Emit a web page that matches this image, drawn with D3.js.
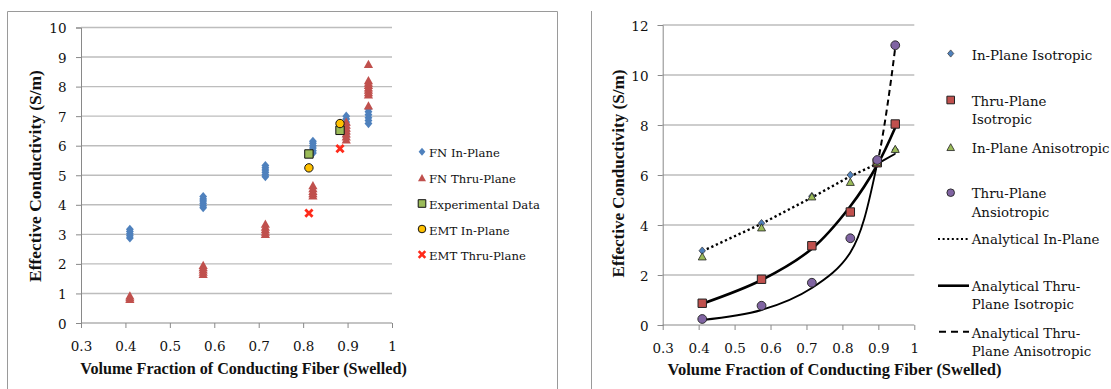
<!DOCTYPE html>
<html><head><meta charset="utf-8">
<script src="https://cdn.jsdelivr.net/npm/d3@7"></script>
<style>body{margin:0;background:#fff;} svg{display:block}</style>
</head><body>
<svg id="c" width="1111" height="389"></svg>
<script>
// ---------------- DATA ----------------
const fiberX = [0.41, 0.575, 0.715, 0.822, 0.897, 0.947];
// left chart: Finite network (FN) results, several runs per volume fraction
const fnInPlane = [
  [2.88, 2.95, 3.02, 3.10, 3.17],
  [3.90, 3.97, 4.05, 4.13, 4.20, 4.28],
  [4.95, 5.02, 5.10, 5.18, 5.25, 5.33],
  [5.75, 5.83, 5.92, 6.00, 6.08, 6.15],
  [6.30, 6.40, 6.50, 6.60, 6.70, 6.80, 6.90, 7.00],
  [6.75, 6.85, 6.95, 7.05, 7.15, 7.25]
];
const fnThruPlane = [
  [0.80, 0.86, 0.92],
  [1.65, 1.72, 1.80, 1.88, 1.95],
  [3.00, 3.08, 3.16, 3.25, 3.35],
  [4.30, 4.38, 4.46, 4.55, 4.65],
  [6.20, 6.30, 6.40, 6.50, 6.60, 6.70, 6.80],
  [7.35, 7.72, 7.80, 7.88, 7.96, 8.04, 8.12, 8.20, 8.75]
];
const expX = [0.813, 0.883];
const experimentalData = [5.72, 6.52];
const emtInPlane = [5.25, 6.75];
const emtThruPlane = [3.72, 5.90];
const leftLegendLabels = ["FN In-Plane", "FN Thru-Plane", "Experimental Data", "EMT In-Plane", "EMT Thru-Plane"];
const leftYTicks = [0, 1, 2, 3, 4, 5, 6, 7, 8, 9, 10];
const xTicks = [0.3, 0.4, 0.5, 0.6, 0.7, 0.8, 0.9, 1.0];
const xTickLabels = ["0.3", "0.4", "0.5", "0.6", "0.7", "0.8", "0.9", "1"];

// right chart
const inPlaneIsotropic = [2.97, 4.07, 5.15, 6.00, 6.50, 7.00];
const thruPlaneIsotropic = [0.87, 1.83, 3.17, 4.52, 6.49, 8.04];
const inPlaneAnisotropic = [2.73, 3.89, 5.13, 5.71, 6.50, 7.03];
const thruPlaneAnisotropic = [0.24, 0.77, 1.69, 3.47, 6.60, 11.19];
const analyticalInPlane = [2.95, 4.05, 5.10, 5.95, 6.45, 6.85];
const analyticalThruIso = [0.85, 1.80, 3.05, 4.75, 6.40, 7.90];
const analyticalThruAniso = [0.20, 0.60, 1.48, 2.90, 6.45, 11.10];
const rightYTicks = [0, 2, 4, 6, 8, 10, 12];
const rightLegendLabels = [
  ["In-Plane Isotropic"], ["Thru-Plane", "Isotropic"], ["In-Plane Anisotropic"],
  ["Thru-Plane", "Ansiotropic"], ["Analytical In-Plane"],
  ["Analytical Thru-", "Plane Isotropic"], ["Analytical Thru-", "Plane Anisotropic"]
];
const xTitle = "Volume Fraction of Conducting Fiber (Swelled)";
const yTitle = "Effective Conductivity (S/m)";

// ---------------- STYLE ----------------
const GRID = "#bdbdbd", AXIS = "#898989", FRAME = "#9a9a9a";
const BLUE = "#4f81bd", RED = "#c0504d", GREEN = "#9bbb59", PURPLE = "#8064a2", GOLD = "#ffc000", XRED = "#ff2a1a";
const SERIF = "'DejaVu Serif', serif";
const TITLEF = "'Liberation Serif', serif";
const TXT = "#111";

const svg = d3.select("#c");
svg.append("rect").attr("width", 1111).attr("height", 389).attr("fill", "#fff");

function fitSize(sel, target) {
  const fs = parseFloat(sel.attr("font-size"));
  const w = sel.node().getComputedTextLength();
  const nf = fs * target / w;
  sel.attr("font-size", nf);
  return nf;
}

// frames
svg.append("path").attr("d", "M7.5,389V11.5H557.5V389").attr("fill", "none").attr("stroke", FRAME).attr("stroke-width", 1);
svg.append("path").attr("d", "M591.5,11V389").attr("fill", "none").attr("stroke", FRAME).attr("stroke-width", 1);

function drawAxes(g, x, y, yTicks, yLabelX, xLabelY, yBase) {
  const [x0, x1] = x.range();
  g.selectAll(".grid").data(yTicks.filter(d => d !== 0)).join("line")
    .attr("x1", x0).attr("x2", x1).attr("y1", d => y(d)).attr("y2", d => y(d))
    .attr("stroke", GRID).attr("stroke-width", 1.4);
  const yAxis = d3.axisLeft(y).tickValues(yTicks).tickSize(5).tickFormat(d3.format("d"));
  const ga = g.append("g").attr("transform", `translate(${x0},0)`).call(yAxis);
  ga.select(".domain").attr("stroke", AXIS);
  ga.selectAll(".tick line").attr("stroke", AXIS);
  ga.selectAll(".tick text").attr("font-family", SERIF).attr("font-size", 13.5).attr("fill", TXT)
    .attr("x", yLabelX - x0).attr("dy", null).attr("y", yBase).attr("text-anchor", "end");
  const xAxis = d3.axisBottom(x).tickValues(xTicks).tickSize(5).tickFormat((d, i) => xTickLabels[i]);
  const gx = g.append("g").attr("transform", `translate(0,${y(0)})`).call(xAxis);
  gx.select(".domain").attr("stroke", AXIS).attr("d", `M${x0},0H${x1}`);
  gx.selectAll(".tick line").attr("stroke", AXIS);
  gx.selectAll(".tick text").attr("font-family", SERIF).attr("font-size", 13.5).attr("fill", TXT)
    .attr("dy", null).attr("y", xLabelY - y(0));
}

// ---------------- LEFT CHART ----------------
const xL = d3.scaleLinear().domain([0.3, 1]).range([81, 392]);
const yL = d3.scaleLinear().domain([0, 10]).range([323, 27.5]);
const gL = svg.append("g");
drawAxes(gL, xL, yL, leftYTicks, 66.5, 350.5, 5);

const diamond = (s) => `M0,${-s}L${s * 0.85},0L0,${s}L${-s * 0.85},0Z`;
const triangle = (s) => `M0,${-s}L${s},${s * 0.8}L${-s},${s * 0.8}Z`;
const square = (s) => `M${-s},${-s}H${s}V${s}H${-s}Z`;

const fnInPts = fiberX.flatMap((x, i) => fnInPlane[i].map(v => [x, v]));
const fnThPts = fiberX.flatMap((x, i) => fnThruPlane[i].map(v => [x, v]));
gL.selectAll(".fnin").data(fnInPts).join("path")
  .attr("transform", d => `translate(${xL(d[0])},${yL(d[1])})`).attr("d", diamond(4.6)).attr("fill", BLUE);
gL.selectAll(".fnth").data(fnThPts).join("path")
  .attr("transform", d => `translate(${xL(d[0])},${yL(d[1])})`).attr("d", triangle(4.6)).attr("fill", RED);
gL.selectAll(".exp").data(expX.map((x, i) => [x, experimentalData[i]])).join("path")
  .attr("transform", d => `translate(${xL(d[0])},${yL(d[1])})`).attr("d", square(4.2))
  .attr("fill", GREEN).attr("stroke", "#111").attr("stroke-width", 1);
gL.selectAll(".emti").data(expX.map((x, i) => [x, emtInPlane[i]])).join("circle")
  .attr("cx", d => xL(d[0])).attr("cy", d => yL(d[1])).attr("r", 4.2)
  .attr("fill", GOLD).attr("stroke", "#111").attr("stroke-width", 1);
const xMark = (s) => `M${-s},${-s}L${s},${s}M${s},${-s}L${-s},${s}`;
gL.selectAll(".emtt").data(expX.map((x, i) => [x, emtThruPlane[i]])).join("path")
  .attr("transform", d => `translate(${xL(d[0])},${yL(d[1])})`).attr("d", xMark(3.6))
  .attr("stroke", XRED).attr("stroke-width", 2.8).attr("fill", "none");

// left legend
const legRowsL = [152.7, 179, 205, 230.5, 256];
const legL = svg.append("g");
const lt = legL.selectAll("text").data(leftLegendLabels).join("text")
  .attr("x", 429).attr("y", (d, i) => legRowsL[i] + 4.2).attr("font-family", SERIF).attr("font-size", 11.5)
  .attr("fill", TXT).text(d => d);
const fsL = fitSize(lt.filter((d, i) => i === 2), 111);
lt.attr("font-size", fsL);
const mxL = 422;
legL.append("path").attr("transform", `translate(${mxL},${legRowsL[0] - 1})`).attr("d", diamond(4)).attr("fill", BLUE);
legL.append("path").attr("transform", `translate(${mxL},${legRowsL[1] - 1})`).attr("d", triangle(4)).attr("fill", RED);
legL.append("path").attr("transform", `translate(${mxL},${legRowsL[2] - 1.5})`).attr("d", square(3.8)).attr("fill", GREEN).attr("stroke", "#111");
legL.append("circle").attr("cx", mxL).attr("cy", legRowsL[3] - 1.5).attr("r", 3.8).attr("fill", GOLD).attr("stroke", "#111");
legL.append("path").attr("transform", `translate(${mxL},${legRowsL[4] - 1.5})`).attr("d", xMark(3.3)).attr("stroke", XRED).attr("stroke-width", 2.6);

// left titles
const txL = svg.append("text").attr("x", 243.5).attr("y", 374).attr("text-anchor", "middle")
  .attr("font-family", TITLEF).attr("font-weight", "bold").attr("font-size", 14).attr("fill", "#111").text(xTitle);
fitSize(txL, 327);
const tyL = svg.append("text").attr("transform", "translate(40.5,176) rotate(-90)").attr("text-anchor", "middle")
  .attr("font-family", TITLEF).attr("font-weight", "bold").attr("font-size", 14).attr("fill", "#111").text(yTitle);
fitSize(tyL, 212);

// ---------------- RIGHT CHART ----------------
const xR = d3.scaleLinear().domain([0.3, 1]).range([662.7, 914.3]);
const yR = d3.scaleLinear().domain([0, 12]).range([325, 25]);
const gR = svg.append("g");
drawAxes(gR, xR, yR, rightYTicks, 648.5, 352.5, 5.3);

const defs = svg.append("defs");
const xSplit = xR(fiberX[4]);
defs.append("clipPath").attr("id", "before").append("rect").attr("x", 0).attr("y", 0).attr("width", xSplit).attr("height", 389);
defs.append("clipPath").attr("id", "after").append("rect").attr("x", xSplit).attr("y", 0).attr("width", 400).attr("height", 389);

const lineGen = (vals) => d3.line().curve(d3.curveCatmullRom.alpha(0.5))
  .x((d, i) => xR(fiberX[i])).y(d => yR(d))(vals);
const lineStraight = (vals) => d3.line().x((d, i) => xR(fiberX[i])).y(d => yR(d))(vals);

gR.append("path").attr("d", lineStraight(analyticalInPlane)).attr("clip-path", "url(#before)")
  .attr("fill", "none").attr("stroke", "#000").attr("stroke-width", 2.4).attr("stroke-dasharray", "2.3,2.7");
gR.append("path").attr("d", lineStraight(analyticalInPlane)).attr("clip-path", "url(#after)")
  .attr("fill", "none").attr("stroke", "#000").attr("stroke-width", 2);
gR.append("path").attr("d", lineGen(analyticalThruIso))
  .attr("fill", "none").attr("stroke", "#000").attr("stroke-width", 2.6);
gR.append("path").attr("d", lineGen(analyticalThruAniso)).attr("clip-path", "url(#before)")
  .attr("fill", "none").attr("stroke", "#000").attr("stroke-width", 1.9);
gR.append("path").attr("d", lineGen(analyticalThruAniso)).attr("clip-path", "url(#after)")
  .attr("fill", "none").attr("stroke", "#000").attr("stroke-width", 2).attr("stroke-dasharray", "6,4");

const pts = (vals) => vals.map((v, i) => [fiberX[i], v]);
gR.selectAll(".ipi").data(pts(inPlaneIsotropic)).join("path")
  .attr("transform", d => `translate(${xR(d[0])},${yR(d[1])})`).attr("d", diamond(3.8))
  .attr("fill", BLUE).attr("stroke", "#333").attr("stroke-width", 0.7);
gR.selectAll(".tpi").data(pts(thruPlaneIsotropic)).join("path")
  .attr("transform", d => `translate(${xR(d[0])},${yR(d[1])})`).attr("d", square(4.2))
  .attr("fill", RED).attr("stroke", "#222").attr("stroke-width", 1);
gR.selectAll(".ipa").data(pts(inPlaneAnisotropic)).join("path")
  .attr("transform", d => `translate(${xR(d[0])},${yR(d[1])})`).attr("d", triangle(4))
  .attr("fill", GREEN).attr("stroke", "#222").attr("stroke-width", 0.8);
gR.selectAll(".tpa").data(pts(thruPlaneAnisotropic)).join("circle")
  .attr("cx", d => xR(d[0])).attr("cy", d => yR(d[1])).attr("r", 4.4)
  .attr("fill", PURPLE).attr("stroke", "#222").attr("stroke-width", 0.9);

// right legend
const legTextY = [[56], [101.7, 120], [148.3], [194, 212.7], [240], [286.7, 305], [333.3, 351.7]];
const legR = svg.append("g");
const rt = [];
rightLegendLabels.forEach((lines, i) => {
  lines.forEach((s, j) => {
    rt.push(legR.append("text").attr("x", 971.7).attr("y", legTextY[i][j] + 4.2)
      .attr("font-family", SERIF).attr("font-size", 12).attr("fill", TXT).text(s));
  });
});
const fsR = fitSize(rt[3], 138);
rt.forEach(t => t.attr("font-size", fsR));
const mxR = 950.7;
legR.append("path").attr("transform", `translate(${mxR},53.5)`).attr("d", diamond(3.6)).attr("fill", BLUE).attr("stroke", "#333").attr("stroke-width", 0.7);
legR.append("path").attr("transform", `translate(${mxR},100)`).attr("d", square(3.8)).attr("fill", RED).attr("stroke", "#222");
legR.append("path").attr("transform", `translate(${mxR},147.5)`).attr("d", triangle(3.8)).attr("fill", GREEN).attr("stroke", "#222").attr("stroke-width", 0.8);
legR.append("circle").attr("cx", mxR).attr("cy", 192.7).attr("r", 3.8).attr("fill", PURPLE).attr("stroke", "#222").attr("stroke-width", 0.9);
legR.append("line").attr("x1", 938).attr("x2", 969).attr("y1", 239).attr("y2", 239)
  .attr("stroke", "#000").attr("stroke-width", 2).attr("stroke-dasharray", "2,2.6");
legR.append("line").attr("x1", 938).attr("x2", 969).attr("y1", 285.7).attr("y2", 285.7)
  .attr("stroke", "#000").attr("stroke-width", 2.6);
legR.append("line").attr("x1", 938).attr("x2", 969).attr("y1", 331.7).attr("y2", 331.7)
  .attr("stroke", "#000").attr("stroke-width", 2).attr("stroke-dasharray", "7,5").attr("stroke-dashoffset", -1);

// right titles
const txR = svg.append("text").attr("x", 834.5).attr("y", 375).attr("text-anchor", "middle")
  .attr("font-family", TITLEF).attr("font-weight", "bold").attr("font-size", 14).attr("fill", "#111").text(xTitle);
fitSize(txR, 334);
const tyR = svg.append("text").attr("transform", "translate(624,173.5) rotate(-90)").attr("text-anchor", "middle")
  .attr("font-family", TITLEF).attr("font-weight", "bold").attr("font-size", 14).attr("fill", "#111").text(yTitle);
fitSize(tyR, 208);
</script>
</body></html>
